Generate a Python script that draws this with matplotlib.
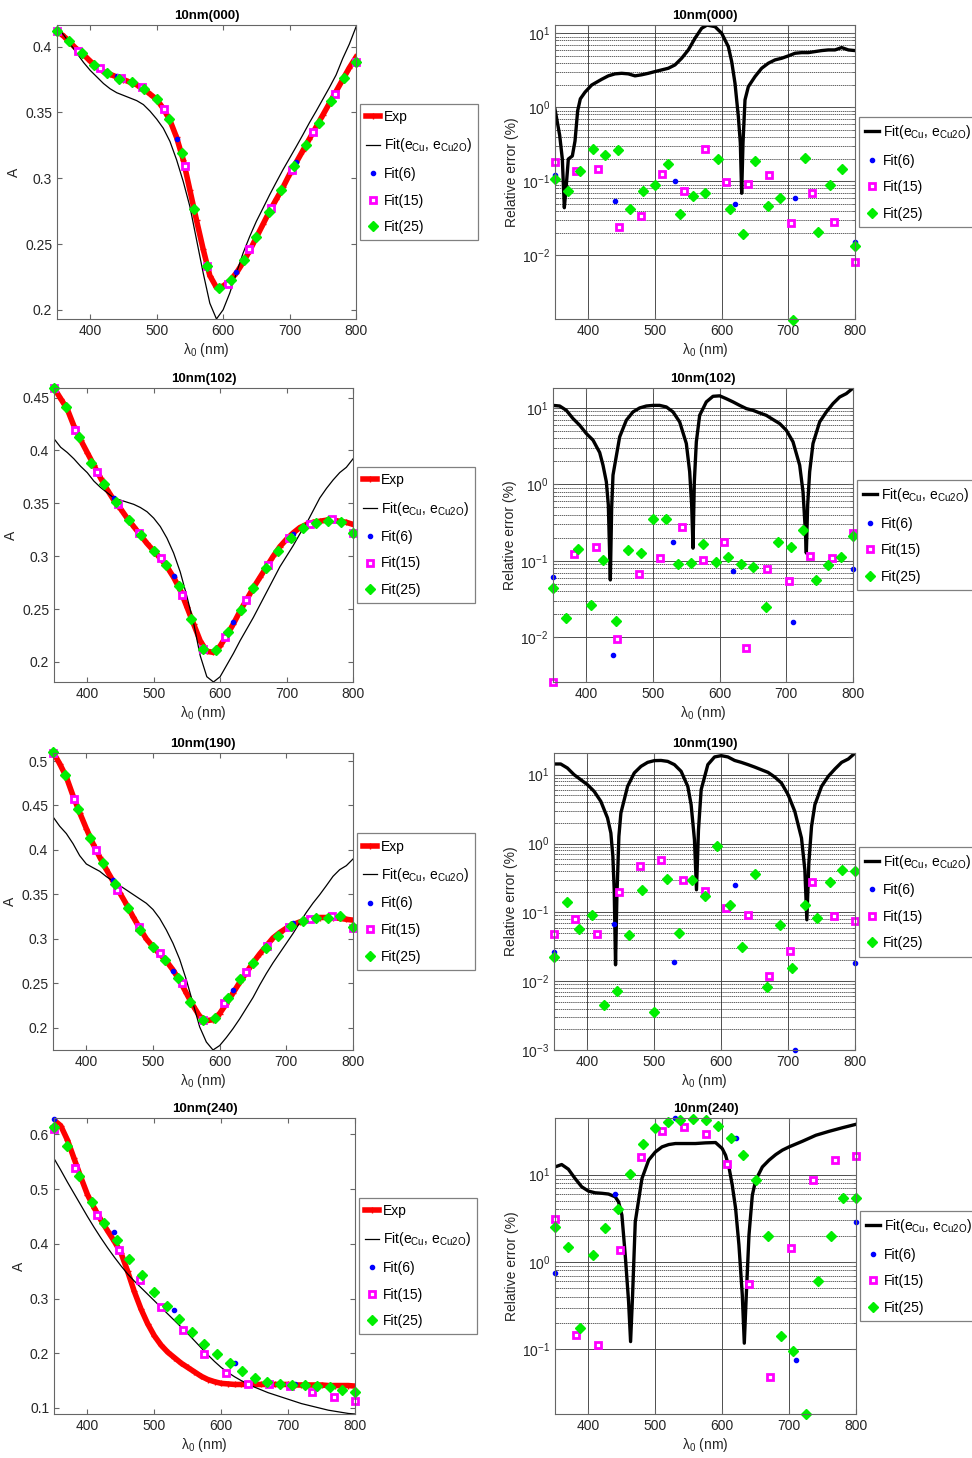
import numpy as np
import matplotlib
matplotlib.use("Agg")
import matplotlib.pyplot as plt
from matplotlib.ticker import FixedLocator, FuncFormatter, NullFormatter, LogFormatterSciNotation

plt.rcParams["font.family"] = ["Liberation Sans", "DejaVu Sans"]
plt.rcParams["mathtext.fontset"] = "custom"
plt.rcParams["mathtext.rm"] = "Liberation Sans"
plt.rcParams["mathtext.it"] = "Liberation Sans:italic"
plt.rcParams["mathtext.bf"] = "Liberation Sans:bold"
plt.rcParams["font.size"] = 10

# ---------------- data ----------------
WL = [350, 360, 370, 380, 390, 400, 410, 420, 430, 440, 450, 460, 470, 480, 490, 500,
      510, 520, 530, 540, 550, 560, 570, 580, 590, 600, 610, 620, 630, 640, 650, 660,
      670, 680, 690, 700, 710, 720, 730, 740, 750, 760, 770, 780, 790, 800]
X6 = [350, 440, 530, 620, 710, 800]
X15 = [350, 382.14, 414.29, 446.43, 478.57, 510.71, 542.86, 575, 607.14, 639.29,
       671.43, 703.57, 735.71, 767.86, 800]
X25 = [350, 368.75, 387.5, 406.25, 425, 443.75, 462.5, 481.25, 500, 518.75, 537.5,
       556.25, 575, 593.75, 612.5, 631.25, 650, 668.75, 687.5, 706.25, 725, 743.75,
       762.5, 781.25, 800]

# 10nm(000)
EXP_000 = [0.412, 0.408, 0.403, 0.398, 0.394, 0.389, 0.385, 0.381, 0.379, 0.377, 0.375,
           0.373, 0.371, 0.368, 0.364, 0.360, 0.353, 0.344, 0.331, 0.314, 0.291, 0.268,
           0.246, 0.226, 0.217, 0.218, 0.222, 0.228, 0.236, 0.245, 0.255, 0.265, 0.275,
           0.284, 0.293, 0.303, 0.312, 0.321, 0.330, 0.339, 0.348, 0.357, 0.366, 0.375,
           0.384, 0.392]
CU_000 = [0.415, 0.409, 0.402, 0.395, 0.388, 0.382, 0.377, 0.372, 0.368, 0.365, 0.363,
          0.361, 0.359, 0.356, 0.351, 0.345, 0.338, 0.328, 0.314, 0.2975, 0.2785,
          0.2533, 0.228, 0.205, 0.193, 0.200, 0.2127, 0.228, 0.243, 0.2557, 0.2672,
          0.2772, 0.2874, 0.297, 0.3064, 0.3152, 0.324, 0.333, 0.3423, 0.351, 0.360,
          0.369, 0.3785, 0.391, 0.402, 0.415]
F6_000 = [0.412, 0.3777, 0.330, 0.2287, 0.3127, 0.388]
F15_000 = [0.412, 0.397, 0.3836, 0.376, 0.3697, 0.353, 0.3094, 0.233, 0.2196, 0.246,
           0.2773, 0.306, 0.3355, 0.3638, 0.388]
F25_000 = [0.4119, 0.404, 0.395, 0.386, 0.380, 0.3757, 0.373, 0.368, 0.360, 0.345, 0.319,
           0.2767, 0.233, 0.2165, 0.223, 0.238, 0.2557, 0.274, 0.291, 0.309, 0.3253,
           0.342, 0.359, 0.3765, 0.388]
ERRX_000 = [350, 357, 361, 364, 367, 370, 376, 380, 384, 388, 395, 405, 420, 430, 440,
            450, 460, 470, 480, 490, 500, 510, 520, 530, 540, 550, 560, 570, 578, 590,
            600, 610, 615, 620, 625, 628, 630, 632, 635, 640, 650, 660, 670, 680, 690,
            700, 710, 720, 730, 740, 750, 760, 770, 780, 790, 800]
ERRCU_000 = [0.94, 0.42, 0.2, 0.044, 0.09, 0.2, 0.22, 0.35, 0.9, 1.3, 1.6, 2.0, 2.39,
             2.66, 2.83, 2.88, 2.83, 2.66, 2.75, 2.88, 3.04, 3.2, 3.37, 3.74, 4.6, 5.96,
             8.57, 11.7, 12.9, 12.3, 10, 6.6, 4.15, 2.11, 0.75, 0.33, 0.069, 0.33, 1.26,
             1.9, 2.6, 3.37, 3.94, 4.37, 4.6, 4.95, 5.37, 5.48, 5.48, 5.66, 5.84, 5.96,
             5.96, 6.41, 5.96, 5.84]
E6_000 = [0.12, 0.0537, 0.1016, 0.0488, 0.06, 0.015]
E15_000 = [0.18, 0.136, 0.148, 0.0241, 0.0343, 0.125, 0.0745, 0.275, 0.0975, 0.0916,
           0.1225, 0.0273, 0.0686, 0.0282, 0.0081]
E25_000 = [0.107, 0.075, 0.14, 0.275, 0.226, 0.261, 0.0427, 0.073, 0.0898, 0.173, 0.036,
           0.0626, 0.0693, 0.2, 0.0427, 0.0194, 0.189, 0.0468, 0.06, 0.00135, 0.206,
           0.0208, 0.088, 0.146, 0.0135]

# 10nm(102)
EXP_102 = [0.459, 0.449, 0.439, 0.423, 0.410, 0.398, 0.386, 0.374, 0.363, 0.353, 0.345,
           0.336, 0.328, 0.320, 0.312, 0.305, 0.298, 0.290, 0.280, 0.268, 0.252, 0.236,
           0.220, 0.210, 0.209, 0.215, 0.225, 0.236, 0.248, 0.259, 0.270, 0.280, 0.290,
           0.300, 0.309, 0.316, 0.322, 0.327, 0.330, 0.332, 0.333, 0.334, 0.334, 0.333,
           0.332, 0.330]
CU_102 = [0.411, 0.403, 0.398, 0.392, 0.385, 0.379, 0.371, 0.365, 0.360, 0.355, 0.353,
          0.351, 0.349, 0.346, 0.342, 0.336, 0.328, 0.317, 0.303, 0.285, 0.262, 0.237,
          0.206, 0.186, 0.181, 0.186, 0.197, 0.208, 0.220, 0.231, 0.242, 0.254, 0.266,
          0.278, 0.290, 0.300, 0.310, 0.321, 0.331, 0.343, 0.355, 0.364, 0.372, 0.379,
          0.384, 0.392]
F6_102 = [0.459, 0.3553, 0.2808, 0.2377, 0.321, 0.3223]
F15_102 = [0.459, 0.4192, 0.3792, 0.349, 0.3217, 0.2987, 0.2635, 0.2122, 0.2232, 0.2585,
           0.2918, 0.3167, 0.3302, 0.3352, 0.3223]
F25_102 = [0.4594, 0.4406, 0.4123, 0.3884, 0.3682, 0.3516, 0.3343, 0.3201, 0.3053,
           0.2912, 0.272, 0.2405, 0.2119, 0.2113, 0.2283, 0.2494, 0.2698, 0.2887, 0.3053,
           0.3176, 0.3264, 0.3317, 0.3333, 0.3327, 0.3223]
ERRX_102 = [350, 360, 370, 380, 390, 400, 410, 420, 425, 430, 433, 436, 438, 440, 450,
            460, 470, 480, 490, 500, 510, 520, 530, 540, 550, 555, 558, 560, 562, 565,
            570, 580, 590, 600, 610, 620, 630, 640, 650, 660, 670, 680, 690, 700, 710,
            720, 725, 728, 730, 732, 735, 740, 750, 760, 770, 780, 790, 800]
ERRCU_102 = [10.8, 10.6, 9.3, 7.26, 5.94, 4.62, 3.79, 2.61, 1.78, 1.08, 0.536, 0.056,
             0.49, 1.32, 4.18, 6.9, 8.87, 10, 10.6, 10.8, 10.8, 10.3, 8.87, 6.56, 3.42,
             1.46, 0.536, 0.146, 1.08, 3.6, 8.0, 12.0, 14.2, 14.4, 13.2, 12, 10.8, 9.8,
             9.3, 8.6, 8.0, 7.05, 6.24, 5.1, 3.6, 1.78, 0.8, 0.294, 0.126, 0.54, 1.46,
             3.42, 6.56, 8.87, 11.4, 13.9, 15.4, 18.2]
E6_102 = [0.0603, 0.0059, 0.176, 0.0736, 0.0157, 0.0775]
E15_102 = [0.00257, 0.121, 0.153, 0.0095, 0.0665, 0.11, 0.273, 0.1035, 0.174, 0.0072,
           0.0789, 0.0545, 0.1155, 0.11, 0.229]
E25_102 = [0.0436, 0.0177, 0.141, 0.0262, 0.102, 0.016, 0.138, 0.125, 0.348, 0.348,
           0.0908, 0.0926, 0.1656, 0.0955, 0.111, 0.0897, 0.0838, 0.0244, 0.176, 0.149,
           0.25, 0.0556, 0.0873, 0.111, 0.213]

# 10nm(190)
EXP_190 = [0.510, 0.497, 0.482, 0.461, 0.442, 0.424, 0.407, 0.392, 0.378, 0.365, 0.352,
           0.339, 0.325, 0.312, 0.300, 0.291, 0.283, 0.275, 0.265, 0.253, 0.239, 0.225,
           0.213, 0.208, 0.209, 0.216, 0.227, 0.239, 0.251, 0.262, 0.273, 0.283, 0.292,
           0.301, 0.307, 0.312, 0.316, 0.319, 0.321, 0.323, 0.324, 0.324, 0.324, 0.323,
           0.322, 0.321]
CU_190 = [0.4372, 0.4267, 0.4184, 0.4071, 0.3936, 0.3842, 0.380, 0.376, 0.370, 0.365,
          0.360, 0.355, 0.350, 0.345, 0.340, 0.333, 0.323, 0.310, 0.295, 0.277, 0.254,
          0.2275, 0.201, 0.184, 0.175, 0.180, 0.189, 0.199, 0.210, 0.222, 0.234, 0.248,
          0.261, 0.273, 0.284, 0.295, 0.306, 0.318, 0.3297, 0.3402, 0.3496, 0.3598,
          0.3703, 0.3778, 0.3823, 0.3898]
F6_190 = [0.510, 0.3658, 0.2642, 0.2424, 0.3176, 0.3131]
F15_190 = [0.509, 0.4568, 0.4004, 0.3552, 0.3128, 0.2838, 0.25, 0.2086, 0.2274, 0.2631,
           0.292, 0.3128, 0.3225, 0.3252, 0.312]
F25_190 = [0.510, 0.4838, 0.4462, 0.4131, 0.3853, 0.3616, 0.3346, 0.3101, 0.2906,
           0.2763, 0.2556, 0.2293, 0.2086, 0.2112, 0.233, 0.2545, 0.2725, 0.2894, 0.3037,
           0.3139, 0.3206, 0.324, 0.324, 0.3259, 0.3131]
ERRX_190 = [350, 360, 370, 380, 390, 400, 410, 420, 430, 435, 438, 440, 442, 444, 447,
            450, 460, 470, 480, 490, 500, 510, 520, 530, 540, 550, 555, 560, 563, 566,
            570, 580, 590, 600, 610, 620, 630, 640, 650, 660, 670, 680, 690, 700, 710,
            720, 725, 728, 731, 735, 740, 750, 760, 770, 780, 790, 800]
ERRCU_190 = [14.3, 14.3, 12.5, 10, 8.46, 7.15, 5.73, 4.1, 2.35, 1.42, 0.65, 0.213,
             0.0173, 0.167, 1.27, 2.77, 6.76, 10.6, 13.2, 15.1, 16.0, 16.1, 15.6, 14,
             11.2, 6.76, 3.66, 1.13, 0.213, 1.58, 6.05, 14, 18.1, 18.9, 18.1, 16.1, 15.1,
             14, 12.9, 11.8, 10.8, 9.25, 7.57, 5.12, 2.93, 1.2, 0.417, 0.078, 0.52, 1.77,
             3.66, 6.76, 9.46, 12.1, 15.1, 16.9, 20.6]
E6_190 = [0.0264, 0.0673, 0.0187, 0.249, 0.001, 0.0182]
E15_190 = [0.0488, 0.0796, 0.0488, 0.195, 0.465, 0.58, 0.3, 0.201, 0.1164, 0.092,
           0.0118, 0.027, 0.275, 0.0871, 0.0753]
E25_190 = [0.0228, 0.142, 0.057, 0.092, 0.0045, 0.0073, 0.0476, 0.213, 0.00361, 0.304,
           0.0504, 0.297, 0.174, 0.928, 0.129, 0.0312, 0.363, 0.00835, 0.066, 0.0155,
           0.129, 0.0824, 0.275, 0.411, 0.402]

# 10nm(240)
EXP_240 = [0.626, 0.616, 0.590, 0.556, 0.522, 0.490, 0.466, 0.444, 0.424, 0.405, 0.384,
           0.350, 0.313, 0.281, 0.254, 0.232, 0.215, 0.202, 0.192, 0.182, 0.174, 0.166,
           0.158, 0.152, 0.148, 0.145, 0.144, 0.143, 0.143, 0.143, 0.143, 0.143, 0.143,
           0.143, 0.143, 0.143, 0.142, 0.142, 0.142, 0.142, 0.142, 0.141, 0.141, 0.141,
           0.141, 0.140]
CU_240 = [0.556, 0.535, 0.513, 0.492, 0.471, 0.450, 0.430, 0.411, 0.393, 0.376, 0.360,
          0.345, 0.332, 0.320, 0.308, 0.296, 0.284, 0.272, 0.260, 0.248, 0.236, 0.223,
          0.210, 0.197, 0.185, 0.174, 0.165, 0.157, 0.150, 0.144, 0.138, 0.133, 0.128,
          0.124, 0.120, 0.116, 0.112, 0.108, 0.105, 0.102, 0.099, 0.096, 0.094, 0.092,
          0.090, 0.089]
F6_240 = [0.6274, 0.4219, 0.2784, 0.1817, 0.1434, 0.130]
F15_240 = [0.6091, 0.5386, 0.4523, 0.3884, 0.3337, 0.2851, 0.2419, 0.1988, 0.1647,
           0.1447, 0.1447, 0.1404, 0.1301, 0.1209, 0.113]
F25_240 = [0.6134, 0.578, 0.5234, 0.4766, 0.4389, 0.4067, 0.3732, 0.3428, 0.3124,
           0.2869, 0.262, 0.2382, 0.2176, 0.1993, 0.1829, 0.1677, 0.1556, 0.147, 0.1434,
           0.1422, 0.1416, 0.1404, 0.138, 0.1325, 0.1283]
ERRX_240 = [350, 360, 370, 380, 390, 400, 410, 420, 430, 440, 445, 450, 455, 460, 463,
            466, 470, 480, 490, 500, 510, 520, 530, 540, 560, 575, 590, 600, 605, 610,
            615, 620, 625, 630, 633, 636, 640, 645, 650, 660, 670, 680, 690, 700, 720,
            740, 760, 780, 800]
ERRCU_240 = [12.2, 13.0, 11.5, 9.0, 7.23, 6.46, 6.18, 6.1, 5.98, 5.56, 4.87, 3.44, 1.2,
             0.353, 0.123, 0.42, 2.88, 9.0, 14.6, 18.1, 20.7, 22.0, 22.6, 22.6, 22.6, 23.0,
             23.2, 19.8, 16.6, 12.2, 7.56, 4.09, 1.56, 0.42, 0.118, 0.42, 2.03, 5.8, 8.6,
             12.2, 14.6, 16.9, 19.0, 20.7, 24.0, 28.1, 31.2, 34.3, 37.5]
E6_240 = [0.755, 5.97, 44, 26.4, 0.0755, 2.88]
E15_240 = [3.09, 0.145, 0.113, 1.36, 15.9, 31.7, 34.7, 29.4, 13.3, 0.556, 0.0488, 1.46,
           8.6, 14.6, 16.3]
E25_240 = [2.51, 1.47, 0.178, 1.2, 2.42, 3.99, 10.1, 22.6, 34.0, 39.9, 42.4, 43.1, 41.7,
           36.2, 26.4, 16.9, 8.55, 1.96, 0.141, 0.0948, 0.0183, 0.603, 1.96, 5.42, 5.42]

TITLES = ["10nm(000)", "10nm(102)", "10nm(190)", "10nm(240)"]
A_YLIM = [(0.193, 0.4165), (0.181, 0.459), (0.175, 0.509), (0.089, 0.630)]
A_TICKS = [[0.2, 0.25, 0.3, 0.35, 0.4],
           [0.2, 0.25, 0.3, 0.35, 0.4, 0.45],
           [0.2, 0.25, 0.3, 0.35, 0.4, 0.45, 0.5],
           [0.1, 0.2, 0.3, 0.4, 0.5, 0.6]]
ERR_YLIM = [(10 ** -2.86, 10 ** 1.112), (10 ** -2.588, 10 ** 1.261),
            (1e-3, 10 ** 1.315), (10 ** -1.738, 10 ** 1.646)]

# ---------------- layout (pixels of the 972x1458 canvas) ----------------
W, H = 972, 1458
ROW_Y = [(25, 319), (388, 682), (753, 1050), (1118, 1414)]
LEFT_X = [(57, 356), (54, 353), (53, 353), (54, 355)]
RIGHT_X = [(555, 855), (553, 853), (554, 855), (555, 856)]

RED = "#ff0000"
GREEN = "#00ee00"
MAG = "#ff00ff"
BLUE = "#0000ff"
FIT_CU = r"Fit(e$\mathregular{_{Cu}}$, e$\mathregular{_{Cu2O}}$)"


def rect(xs, ys):
    return [xs[0] / W, 1 - ys[1] / H, (xs[1] - xs[0]) / W, (ys[1] - ys[0]) / H]


def style_axes(ax, title):
    for s in ax.spines.values():
        s.set_color("0.4")
        s.set_linewidth(0.8)
    ax.tick_params(which="both", direction="in", top=True, right=True,
                   colors="0.4", labelcolor="0.15", labelsize=10)
    ax.tick_params(which="major", length=3.5)
    ax.tick_params(which="minor", length=2)
    ax.set_xlim(350, 800)
    ax.set_xticks([400, 500, 600, 700, 800])
    ax.set_xlabel(r"$\mathregular{\lambda_0}$ (nm)", color="0.15", labelpad=2)
    ax.set_title(title, fontweight="bold", fontsize=9.5, pad=4)


def leg(ax):
    lg = ax.legend(loc="center left", bbox_to_anchor=(1.012, 0.5), fontsize=10,
                   frameon=True, fancybox=False, edgecolor="0.5", framealpha=1,
                   handlelength=1.0, handletextpad=0.3, borderpad=0.45,
                   labelspacing=0.9, borderaxespad=0)
    lg.get_frame().set_linewidth(0.9)


rows = [
    (EXP_000, CU_000, F6_000, F15_000, F25_000, ERRX_000, ERRCU_000, E6_000, E15_000, E25_000),
    (EXP_102, CU_102, F6_102, F15_102, F25_102, ERRX_102, ERRCU_102, E6_102, E15_102, E25_102),
    (EXP_190, CU_190, F6_190, F15_190, F25_190, ERRX_190, ERRCU_190, E6_190, E15_190, E25_190),
    (EXP_240, CU_240, F6_240, F15_240, F25_240, ERRX_240, ERRCU_240, E6_240, E15_240, E25_240),
]

fig = plt.figure(figsize=(W / 100, H / 100), dpi=100)

for i, (exp, cu, f6, f15, f25, ex, ecu, e6, e15, e25) in enumerate(rows):
    # absorbance panel
    ax = fig.add_axes(rect(LEFT_X[i], ROW_Y[i]))
    ax.plot(WL, exp, "-", color=RED, lw=4, marker="+", ms=5, mew=1.0, label="Exp")
    ax.plot(WL, cu, "-", color="k", lw=0.9, label=FIT_CU)
    ax.plot(X6, f6, "o", color=BLUE, ms=3, ls="none", label="Fit(6)", clip_on=False)
    ax.plot(X15, f15, "s", mfc="white", mec=MAG, mew=2.0, ms=3.9, ls="none",
            label="Fit(15)", clip_on=False)
    ax.plot(X25, f25, "D", color=GREEN, ms=5, ls="none", label="Fit(25)", clip_on=False)
    ax.set_ylim(*A_YLIM[i])
    ax.set_yticks(A_TICKS[i])
    ax.yaxis.set_major_formatter(FuncFormatter(lambda v, p: f"{v:g}"))
    ax.set_ylabel("A", color="0.15", labelpad=3)
    style_axes(ax, TITLES[i])
    leg(ax)

    # relative error panel
    ax = fig.add_axes(rect(RIGHT_X[i], ROW_Y[i]))
    ax.set_yscale("log")
    ax.plot(ex, ecu, "-", color="k", lw=2.4, label=FIT_CU)
    ax.plot(X6, e6, "o", color=BLUE, ms=3, ls="none", label="Fit(6)", clip_on=False)
    ax.plot(X15, e15, "s", mfc="white", mec=MAG, mew=2.0, ms=3.9, ls="none",
            label="Fit(15)", clip_on=False)
    ax.plot(X25, e25, "D", color=GREEN, ms=5, ls="none", label="Fit(25)", clip_on=False)
    lo, hi = ERR_YLIM[i]
    ax.set_ylim(lo, hi)
    d0, d1 = int(np.ceil(np.log10(lo) - 1e-6)), int(np.floor(np.log10(hi) + 1e-6))
    ax.yaxis.set_major_locator(FixedLocator([10.0 ** d for d in range(d0, d1 + 1)]))
    ax.yaxis.set_major_formatter(LogFormatterSciNotation())
    ax.yaxis.set_minor_locator(FixedLocator([k * 10.0 ** d for d in range(d0, d1)
                                             for k in range(2, 10)]))
    ax.yaxis.set_minor_formatter(NullFormatter())
    ax.grid(True, which="major", color="0.3", lw=0.7, ls="-")
    ax.grid(True, which="minor", axis="y", color="0.15", lw=0.5, ls=(0, (2, 1)))
    ax.set_ylabel("Relative error (%)", color="0.15", labelpad=2)
    style_axes(ax, TITLES[i])
    leg(ax)

fig.savefig("out.png", dpi=100)
